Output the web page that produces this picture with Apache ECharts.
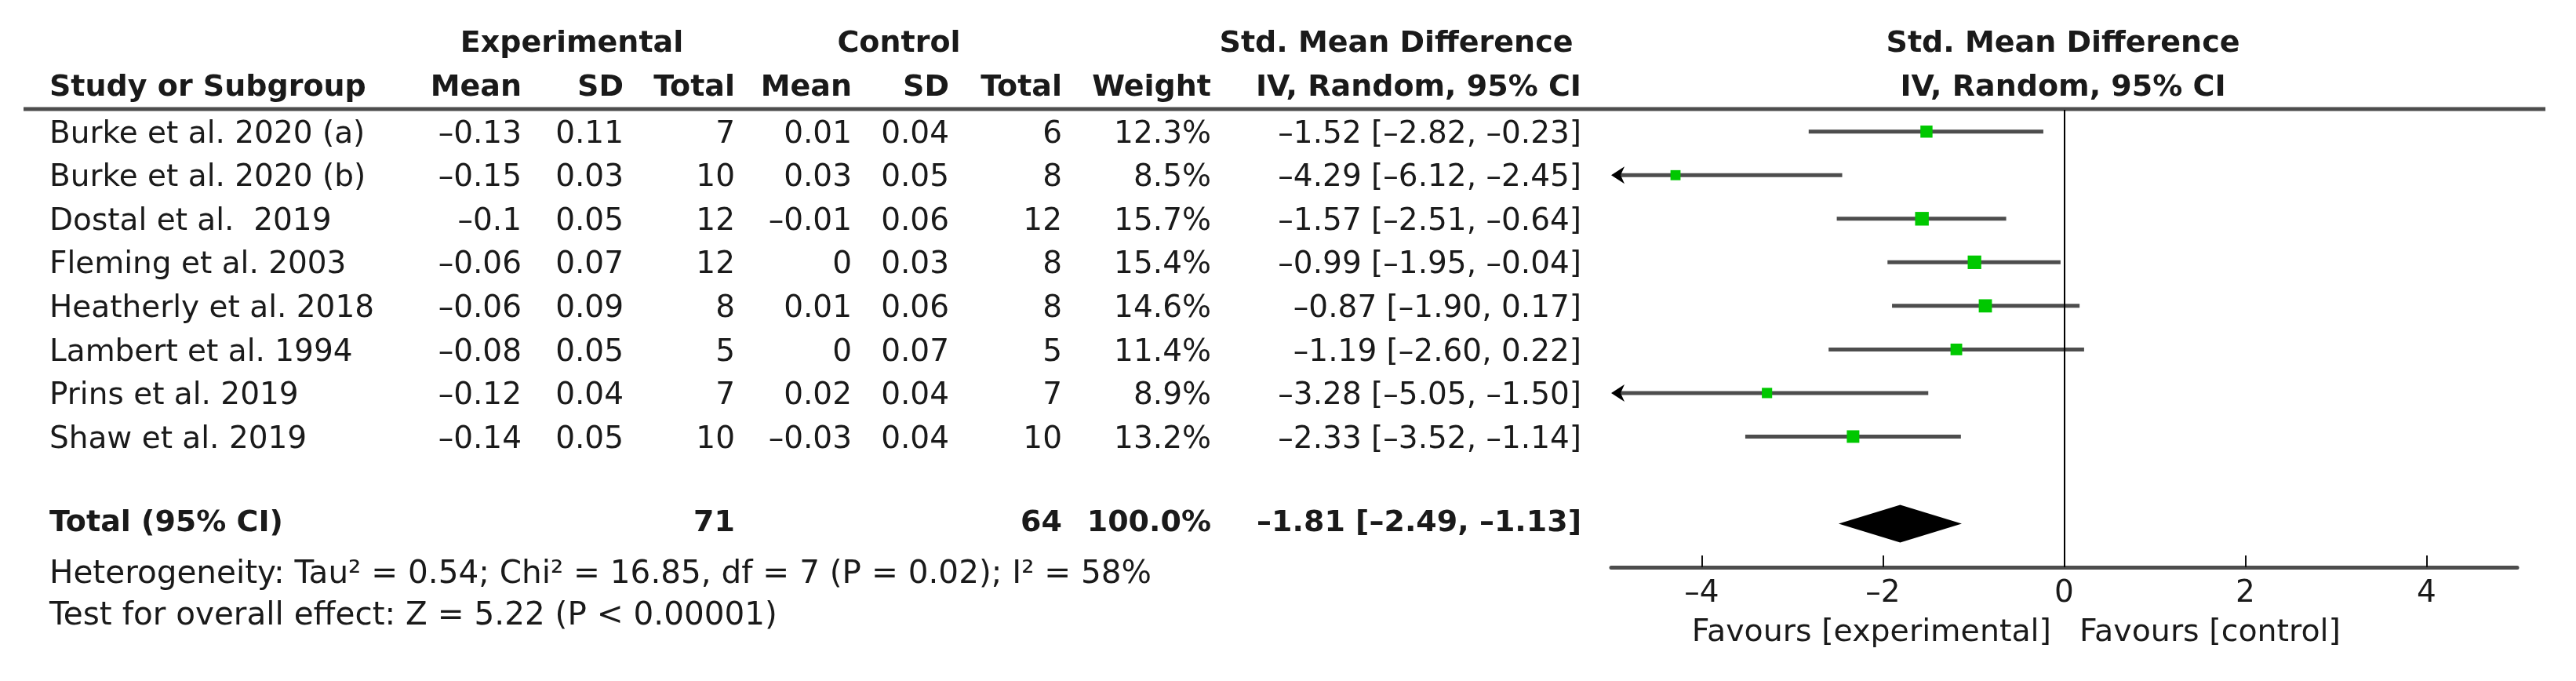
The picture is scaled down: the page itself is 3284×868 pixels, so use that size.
<!DOCTYPE html>
<html><head><meta charset="utf-8">
<script src="https://cdn.jsdelivr.net/npm/echarts@6/dist/echarts.min.js"></script>
<style>html,body{margin:0;padding:0;background:#fff}#c{width:3284px;height:868px}</style>
</head><body><div id="c"></div>
<script>
// ---------- data ----------
const studies = ['Burke et al. 2020 (a)', 'Burke et al. 2020 (b)', 'Dostal et al.  2019', 'Fleming et al. 2003',
  'Heatherly et al. 2018', 'Lambert et al. 1994', 'Prins et al. 2019', 'Shaw et al. 2019'];
const expMean = [-0.13, -0.15, -0.1, -0.06, -0.06, -0.08, -0.12, -0.14];
const expSD   = [0.11, 0.03, 0.05, 0.07, 0.09, 0.05, 0.04, 0.05];
const expN    = [7, 10, 12, 12, 8, 5, 7, 10];
const ctlMean = [0.01, 0.03, -0.01, 0, 0.01, 0, 0.02, -0.03];
const ctlSD   = [0.04, 0.05, 0.06, 0.03, 0.06, 0.07, 0.04, 0.04];
const ctlN    = [6, 8, 12, 8, 8, 5, 7, 10];
const weight  = [12.3, 8.5, 15.7, 15.4, 14.6, 11.4, 8.9, 13.2];
const smd     = [-1.52, -4.29, -1.57, -0.99, -0.87, -1.19, -3.28, -2.33];
const ciLo    = [-2.82, -6.12, -2.51, -1.95, -1.90, -2.60, -5.05, -3.52];
const ciHi    = [-0.23, -2.45, -0.64, -0.04, 0.17, 0.22, -1.50, -1.14];
const totalLabel = 'Total (95% CI)';
const totalExpN = 71, totalCtlN = 64, totalWeight = 100.0;
const totalSmd = -1.81, totalLo = -2.49, totalHi = -1.13;
const xTicks = [-4, -2, 0, 2, 4];
const heterogeneityText = 'Heterogeneity: Tau\u00b2 = 0.54; Chi\u00b2 = 16.85, df = 7 (P = 0.02); I\u00b2 = 58%';
const overallText = 'Test for overall effect: Z = 5.22 (P < 0.00001)';
const favLeft = 'Favours [experimental]', favRight = 'Favours [control]';

// ---------- layout / style ----------
const FONT = 'DejaVu Sans';
const TXT = '#1a1a1a';
const FS = 39, FSB = 38;
const PLOT_L = 2054, PLOT_R = 3209, TOP = 140, AXIS_Y = 723, W = 3284, H = 868;
const Y_MAX = 10.5, TOTAL_ROW = 9.5;
const COLS = {study: 63, expMean: 665, expSD: 795, expN: 937, ctlMean: 1086, ctlSD: 1210, ctlN: 1354, weight: 1544, ci: 2016};
const rowY = i => i + 0.5;
const mn = s => String(s).replace(/-/g, '\u2013');
const ciText = (m, l, h) => mn(m.toFixed(2)) + ' [' + mn(l.toFixed(2)) + ', ' + mn(h.toFixed(2)) + ']';

function textSeries(x, ys, texts, align, bold, dy) {
  return {
    type: 'scatter', xAxisIndex: 1, yAxisIndex: 1, symbol: 'circle', symbolSize: 1, silent: true, animation: false, clip: false,
    itemStyle: {color: 'rgba(0,0,0,0)', opacity: 1},
    data: texts.map((t, i) => ({value: [x, ys[i]], text: String(t)})),
    label: {show: true, position: 'inside', align: align, verticalAlign: 'middle', offset: [0, dy],
      formatter: p => p.data.text, color: TXT, fontFamily: FONT,
      fontSize: bold ? FSB : FS, fontWeight: bold ? 'bold' : 'normal'}
  };
}
function gText(text, x, y, align, bold, size) {
  return {type: 'text', x: x, y: y, silent: true,
    style: {text: text, fill: TXT, fontFamily: FONT, fontSize: size || (bold ? FSB : FS),
      fontWeight: bold ? 'bold' : 'normal', align: align, verticalAlign: 'middle'}};
}

const rows = studies.map((s, i) => rowY(i));
const DY = 4;
const series = [
  textSeries(COLS.study, rows, studies, 'left', false, DY),
  textSeries(COLS.expMean, rows, expMean.map(mn), 'right', false, DY),
  textSeries(COLS.expSD, rows, expSD.map(String), 'right', false, DY),
  textSeries(COLS.expN, rows, expN, 'right', false, DY),
  textSeries(COLS.ctlMean, rows, ctlMean.map(mn), 'right', false, DY),
  textSeries(COLS.ctlSD, rows, ctlSD.map(String), 'right', false, DY),
  textSeries(COLS.ctlN, rows, ctlN, 'right', false, DY),
  textSeries(COLS.weight, rows, weight.map(w => w.toFixed(1) + '%'), 'right', false, DY),
  textSeries(COLS.ci, rows, smd.map((m, i) => ciText(m, ciLo[i], ciHi[i])), 'right', false, DY),
  // total row
  textSeries(COLS.study, [TOTAL_ROW], [totalLabel], 'left', true, 0),
  textSeries(COLS.expN, [TOTAL_ROW], [totalExpN], 'right', true, 0),
  textSeries(COLS.ctlN, [TOTAL_ROW], [totalCtlN], 'right', true, 0),
  textSeries(COLS.weight, [TOTAL_ROW], [totalWeight.toFixed(1) + '%'], 'right', true, 0),
  textSeries(COLS.ci, [TOTAL_ROW], [ciText(totalSmd, totalLo, totalHi)], 'right', true, 0),
  // study CIs + squares
  {
    type: 'custom', xAxisIndex: 0, yAxisIndex: 0, clip: false, silent: true, animation: false,
    data: smd.map((m, i) => [m, ciLo[i], ciHi[i], weight[i], rowY(i)]),
    encode: {x: [0, 1, 2], y: 4},
    renderItem: (params, api) => {
      const m = api.value(0), l = api.value(1), h = api.value(2), w = api.value(3), y = api.value(4);
      const XMIN = -5;
      const clipped = l < XMIN;
      const p0 = api.coord([clipped ? XMIN : l, y]);
      const p1 = api.coord([h, y]);
      const pc = api.coord([m, y]);
      const ch = [];
      ch.push({type: 'line', shape: {x1: p0[0] + (clipped ? 8 : 0), y1: p0[1], x2: p1[0], y2: p1[1]},
        style: {stroke: '#4d4d4d', lineWidth: 5}});
      if (clipped) {
        ch.push({type: 'polygon', shape: {points: [[p0[0], p0[1]], [p0[0] + 17, p0[1] - 11], [p0[0] + 12, p0[1]], [p0[0] + 17, p0[1] + 11]]},
          style: {fill: '#000'}});
      }
      const s = 4.4 * Math.sqrt(w);
      ch.push({type: 'rect', shape: {x: pc[0] - s / 2, y: pc[1] - s / 2, width: s, height: s}, style: {fill: '#00c800'}});
      return {type: 'group', children: ch};
    },
    markLine: {silent: true, symbol: ['none', 'none'], animation: false, label: {show: false},
      lineStyle: {color: '#000', width: 2, type: 'solid'}, data: [{xAxis: 0}]}
  },
  // pooled diamond
  {
    type: 'custom', xAxisIndex: 0, yAxisIndex: 0, clip: false, silent: true, animation: false,
    data: [[totalSmd, totalLo, totalHi, TOTAL_ROW]],
    encode: {x: [0, 1, 2], y: 3},
    renderItem: (params, api) => {
      const y = api.value(3);
      const pl = api.coord([api.value(1), y]), pr = api.coord([api.value(2), y]), pc = api.coord([api.value(0), y]);
      const hh = 24;
      return {type: 'polygon', shape: {points: [[pl[0], pl[1]], [pc[0], pc[1] - hh], [pr[0], pr[1]], [pc[0], pc[1] + hh]]},
        style: {fill: '#000'}};
    }
  }
];

const graphic = [
  {type: 'line', silent: true, shape: {x1: 30, y1: 139, x2: 3245, y2: 139}, style: {stroke: '#4d4d4d', lineWidth: 5}},
  gText('Experimental', 729, 56, 'center', true),
  gText('Control', 1146, 56, 'center', true),
  gText('Std. Mean Difference', 1780, 56, 'center', true),
  gText('Std. Mean Difference', 2630, 56, 'center', true),
  gText('Study or Subgroup', COLS.study, 112, 'left', true),
  gText('Mean', COLS.expMean, 112, 'right', true),
  gText('SD', COLS.expSD, 112, 'right', true),
  gText('Total', COLS.expN, 112, 'right', true),
  gText('Mean', COLS.ctlMean, 112, 'right', true),
  gText('SD', COLS.ctlSD, 112, 'right', true),
  gText('Total', COLS.ctlN, 112, 'right', true),
  gText('Weight', COLS.weight, 112, 'right', true),
  gText('IV, Random, 95% CI', COLS.ci, 112, 'right', true),
  gText('IV, Random, 95% CI', 2630, 112, 'center', true),
  gText(heterogeneityText, COLS.study, 732, 'left', false, 40.5),
  gText(overallText, COLS.study, 785, 'left', false, 40.5),
  gText(favLeft, 2615, 807, 'right', false, 39.5),
  gText(favRight, 2651, 807, 'left', false, 39.5)
];

const chart = echarts.init(document.getElementById('c'), null, {renderer: 'canvas'});
chart.setOption({
  backgroundColor: '#fff',
  animation: false,
  grid: [
    {left: PLOT_L, right: W - PLOT_R, top: TOP, bottom: H - AXIS_Y},
    {left: 0, width: PLOT_L, top: TOP, bottom: H - AXIS_Y}
  ],
  xAxis: [
    {type: 'value', gridIndex: 0, min: -5, max: 5, position: 'bottom',
      axisLine: {show: true, onZero: false, lineStyle: {color: '#4d4d4d', width: 5}},
      axisTick: {show: true, inside: true, length: 15, customValues: xTicks, lineStyle: {color: '#111', width: 2}},
      axisLabel: {show: true, customValues: xTicks, margin: 14, formatter: v => mn(v),
        color: TXT, fontFamily: FONT, fontSize: FS},
      splitLine: {show: false}},
    {type: 'value', gridIndex: 1, min: 0, max: PLOT_L, show: false}
  ],
  yAxis: [
    {type: 'value', gridIndex: 0, min: 0, max: Y_MAX, inverse: true, show: false},
    {type: 'value', gridIndex: 1, min: 0, max: Y_MAX, inverse: true, show: false}
  ],
  series: series,
  graphic: graphic
});
</script>
</body></html>
